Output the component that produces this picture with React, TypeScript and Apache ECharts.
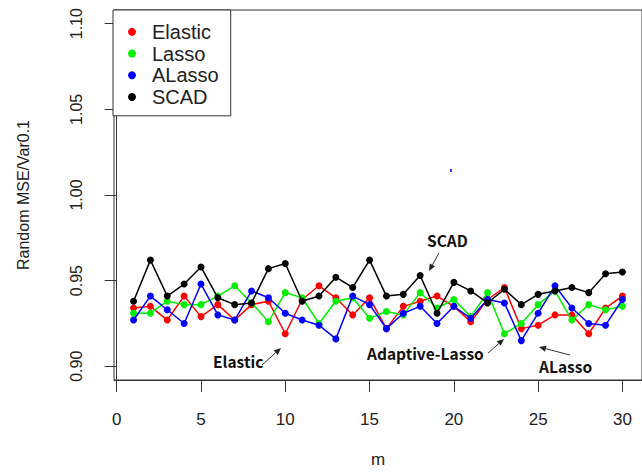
import React, { useEffect, useRef } from "react";
import * as echarts from "echarts";

const M = [1, 2, 3, 4, 5, 6, 7, 8, 9, 10, 11, 12, 13, 14, 15, 16, 17, 18, 19, 20, 21, 22, 23, 24, 25, 26, 27, 28, 29, 30];
const elastic = [0.934, 0.935, 0.927, 0.941, 0.929, 0.936, 0.927, 0.936, 0.938, 0.919, 0.939, 0.947, 0.940, 0.930, 0.940, 0.922, 0.935, 0.938, 0.941, 0.935, 0.926, 0.939, 0.946, 0.922, 0.924, 0.930, 0.930, 0.919, 0.934, 0.941];
const lasso = [0.931, 0.931, 0.938, 0.936, 0.936, 0.941, 0.947, 0.937, 0.926, 0.943, 0.940, 0.925, 0.938, 0.940, 0.928, 0.932, 0.930, 0.943, 0.934, 0.939, 0.929, 0.943, 0.919, 0.925, 0.936, 0.944, 0.927, 0.936, 0.933, 0.935];
const alasso = [0.927, 0.941, 0.933, 0.925, 0.948, 0.930, 0.927, 0.944, 0.940, 0.931, 0.927, 0.924, 0.916, 0.941, 0.936, 0.922, 0.931, 0.935, 0.925, 0.935, 0.928, 0.939, 0.937, 0.915, 0.931, 0.947, 0.934, 0.925, 0.924, 0.939];
const scad = [0.938, 0.962, 0.941, 0.948, 0.958, 0.940, 0.936, 0.937, 0.957, 0.960, 0.938, 0.941, 0.952, 0.946, 0.962, 0.941, 0.942, 0.953, 0.931, 0.949, 0.944, 0.937, 0.945, 0.936, 0.942, 0.944, 0.946, 0.943, 0.954, 0.955];

const SERIES_NAMES = ["Elastic", "Lasso", "ALasso", "SCAD"];
const SERIES_VALUES = [elastic, lasso, alasso, scad];
const SERIES_COLORS = ["#ff0000", "#00f000", "#0000ff", "#000000"];
const X_TICKS = [0, 5, 10, 15, 20, 25, 30];
const Y_TICKS = [0.9, 0.95, 1.0, 1.05, 1.1];

const AXIS_FONT = "'Liberation Sans', Arial, sans-serif";
const NOTE_FONT = "'Noto Sans CJK SC', 'Noto Sans', sans-serif";

function arrow(sx: number, sy: number, tx: number, ty: number) {
  const dx = tx - sx;
  const dy = ty - sy;
  const len = Math.sqrt(dx * dx + dy * dy);
  const ux = dx / len;
  const uy = dy / len;
  const hl = 7;
  const hw = 3;
  const bx = tx - ux * hl;
  const by = ty - uy * hl;
  return [
    {
      type: "line",
      shape: { x1: sx, y1: sy, x2: bx, y2: by },
      style: { stroke: "#333", lineWidth: 1 },
      silent: true,
    },
    {
      type: "polygon",
      shape: {
        points: [
          [tx, ty],
          [bx - uy * hw, by + ux * hw],
          [bx + uy * hw, by - ux * hw],
        ],
      },
      style: { fill: "#222" },
      silent: true,
    },
  ];
}

function note(text: string, x: number, y: number) {
  return {
    type: "text",
    x,
    y,
    style: {
      text,
      fill: "#111",
      font: `bold 15.5px ${NOTE_FONT}`,
      textAlign: "left",
      textVerticalAlign: "middle",
    },
    silent: true,
  };
}

export default function App() {
  const ref = useRef<HTMLDivElement>(null);
  useEffect(() => {
    if (!ref.current) return;
    const chart = echarts.init(ref.current, undefined, { renderer: "svg" });
    chart.setOption({
      animation: false,
      backgroundColor: "#ffffff",
      grid: {
        left: 114,
        right: -8,
        top: 10,
        bottom: 85,
        show: true,
        borderColor: "#333",
        borderWidth: 1,
        backgroundColor: "transparent",
      },
      legend: {
        orient: "vertical",
        left: 113,
        top: 10,
        icon: "circle",
        itemWidth: 8,
        itemHeight: 8,
        itemGap: 0,
        padding: [11, 12, 8, 15],
        borderColor: "#333",
        borderWidth: 1,
        backgroundColor: "#ffffff",
        data: SERIES_NAMES,
        textStyle: {
          fontSize: 20,
          lineHeight: 21.7,
          color: "#222",
          fontFamily: AXIS_FONT,
          padding: [0, 0, 0, 11],
        },
      },
      xAxis: {
        type: "value",
        min: -0.16,
        max: 31.16,
        name: "m",
        nameLocation: "middle",
        nameGap: 71,
        nameTextStyle: { fontSize: 17, color: "#222", fontFamily: AXIS_FONT },
        axisLine: { show: true, lineStyle: { color: "#333", width: 1 } },
        axisTick: { show: true, length: 12, customValues: X_TICKS, lineStyle: { color: "#333" } },
        axisLabel: {
          customValues: X_TICKS,
          margin: 31,
          fontSize: 17,
          color: "#222",
          fontFamily: AXIS_FONT,
        },
        splitLine: { show: false },
      },
      yAxis: {
        type: "value",
        min: 0.892,
        max: 1.108,
        name: "Random MSE/Var0.1",
        nameLocation: "middle",
        nameGap: 83,
        nameRotate: 90,
        nameTextStyle: { fontSize: 16, color: "#222", fontFamily: AXIS_FONT },
        axisLine: { show: true, lineStyle: { color: "#333", width: 1 } },
        axisTick: { show: true, length: 12, customValues: Y_TICKS, lineStyle: { color: "#333" } },
        axisLabel: {
          customValues: Y_TICKS,
          rotate: 90,
          margin: 30,
          fontSize: 16,
          color: "#222",
          fontFamily: AXIS_FONT,
          formatter: (v: number) => v.toFixed(2),
        },
        splitLine: { show: false },
      },
      series: SERIES_NAMES.map((name, si) => ({
        name,
        type: "line",
        data: M.map((m, i) => [m, SERIES_VALUES[si][i]]),
        symbol: "circle",
        symbolSize: 7,
        showSymbol: true,
        color: SERIES_COLORS[si],
        lineStyle: { color: SERIES_COLORS[si], width: 1.5 },
        itemStyle: { color: SERIES_COLORS[si] },
        z: 2 + si,
      })),
      graphic: [
        note("SCAD", 427, 240),
        ...arrow(439, 253, 429, 271),
        note("Elastic", 213, 361),
        ...arrow(262, 365, 281, 348),
        note("Adaptive-Lasso", 367, 353),
        ...arrow(488, 353, 504, 339),
        note("ALasso", 539, 366),
        ...arrow(570, 355, 539, 347),
        {
          type: "rect",
          shape: { x: 450, y: 169, width: 2, height: 3 },
          style: { fill: "#3333ff" },
          silent: true,
        },
      ],
    });
    return () => chart.dispose();
  }, []);
  return (
    <div
      ref={ref}
      style={{ position: "fixed", left: 0, top: 0, width: 642, height: 473, background: "#fff" }}
    />
  );
}
